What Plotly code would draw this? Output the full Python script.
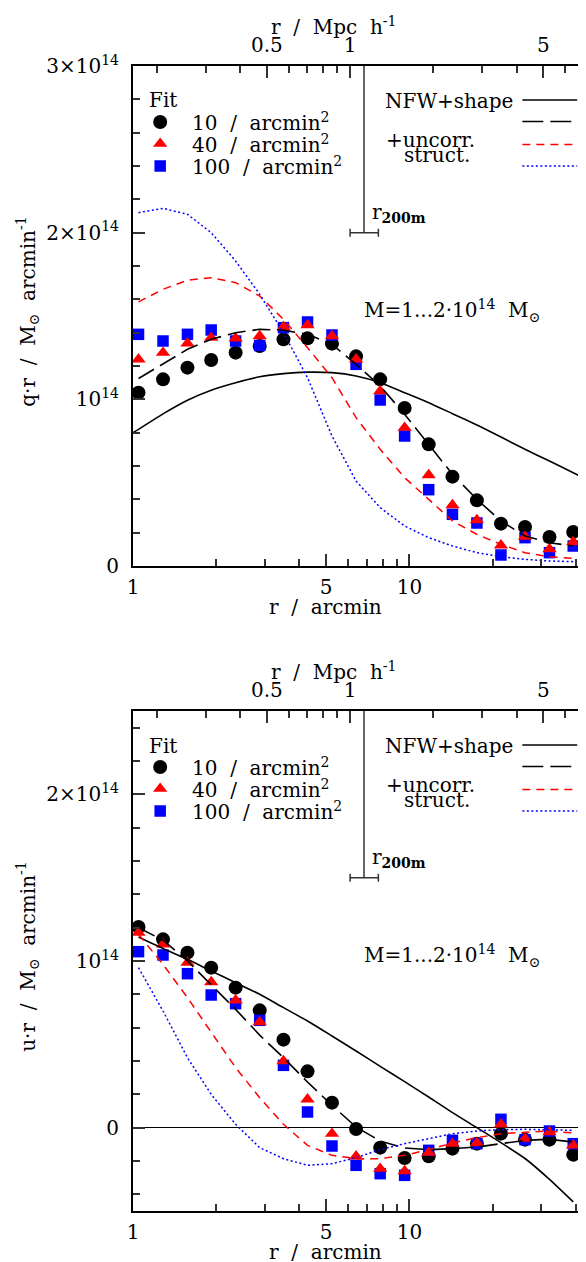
import numpy as np
import plotly.graph_objects as go

# ---------------- data ----------------
ARCMIN_PER_MPC = 6.1          # 1 Mpc/h corresponds to ~6.1 arcmin
R_MAX = 45.0

r = [1.047, 1.284, 1.574, 1.918, 2.351, 2.873, 3.502, 4.279, 5.246, 6.412,
     7.838, 9.607, 11.74, 14.31, 17.54, 21.43, 26.19, 32.11, 39.13]

# top panel: q*r  [1e14 Msun / arcmin]
q_n10 = [1.04, 1.12, 1.19, 1.236, 1.28, 1.32, 1.36, 1.366, 1.334, 1.258,
         1.12, 0.948, 0.73, 0.536, 0.394, 0.254, 0.234, 0.174, 0.204]
q_n40 = [1.24, 1.28, 1.336, 1.37, 1.366, 1.38, 1.434, 1.446, 1.38, 1.24,
         1.05, 0.83, 0.546, 0.366, 0.276, 0.124, 0.176, 0.102, 0.144]
q_n100 = [1.39, 1.35, 1.39, 1.416, 1.35, 1.323, 1.43, 1.464, 1.386, 1.21,
          0.996, 0.78, 0.458, 0.31, 0.258, 0.066, 0.17, 0.08, 0.12]

r_solid_top = [1.0] + r + [R_MAX]
q_nfw = [0.80, 0.82, 0.913, 0.995, 1.055, 1.10, 1.135, 1.154, 1.163, 1.16, 1.14,
         1.10, 1.04, 0.98, 0.914, 0.846, 0.774, 0.70, 0.63, 0.56, 0.51]
q_nfw_dash = [1.125, 1.21, 1.30, 1.36, 1.40, 1.42, 1.415, 1.39, 1.33, 1.21,
              1.08, 0.91, 0.73, 0.55, 0.40, 0.27, 0.18, 0.14, 0.12]
q_unc_red = [1.585, 1.66, 1.715, 1.73, 1.70, 1.62, 1.48, 1.31, 1.13, 0.89,
             0.70, 0.53, 0.40, 0.27, 0.19, 0.13, 0.08, 0.055, 0.046]
q_unc_blue = [2.12, 2.146, 2.11, 2.0, 1.83, 1.63, 1.40, 1.13, 0.78, 0.51,
              0.35, 0.24, 0.17, 0.12, 0.08, 0.055, 0.04, 0.03, 0.026]

# bottom panel: u*r  [1e14 Msun / arcmin]
u_n10 = [1.204, 1.13, 1.05, 0.96, 0.84, 0.704, 0.528, 0.338, 0.15, -0.008,
         -0.12, -0.182, -0.172, -0.126, -0.096, -0.036, -0.072, -0.072, -0.162]
u_n40 = [1.17, 1.10, 0.99, 0.874, 0.764, 0.634, 0.40, 0.17, -0.036, -0.172,
         -0.246, -0.26, -0.15, -0.096, -0.092, 0.02, -0.066, -0.026, -0.106]
u_n100 = [1.056, 1.036, 0.924, 0.796, 0.744, 0.644, 0.374, 0.094, -0.11, -0.226,
          -0.276, -0.286, -0.136, -0.076, -0.096, 0.05, -0.072, -0.02, -0.096]

u_nfw = [1.144, 1.075, 1.01, 0.94, 0.87, 0.80, 0.72, 0.64, 0.55, 0.46,
         0.368, 0.276, 0.184, 0.09, 0.0, -0.09, -0.185, -0.31, -0.445]
u_nfw_dash = [1.20, 1.125, 1.0, 0.86, 0.71, 0.555, 0.42, 0.274, 0.134, 0.004,
              -0.08, -0.122, -0.132, -0.126, -0.116, -0.096, -0.076, -0.07, -0.086]
u_unc_red = [1.16, 0.98, 0.78, 0.57, 0.36, 0.18, 0.02, -0.106, -0.166, -0.186,
             -0.186, -0.166, -0.132, -0.092, -0.06, -0.036, -0.026, -0.02, -0.032]
u_unc_blue = [0.96, 0.70, 0.42, 0.20, 0.02, -0.12, -0.186, -0.226, -0.216, -0.18,
              -0.132, -0.096, -0.066, -0.036, -0.02, -0.012, -0.01, -0.012, -0.016]

r200m = 6.85
r200m_lo, r200m_hi = 6.10, 7.72
r200m_bar_top, r200m_bar_bottom = 2.0, 1.5

ylim_top = [0, 3]
ylim_bottom = [-0.5, 2.5]
ytick_vals_top = [0, 1, 2, 3]
ytick_text_top = ['0', '10<sup>14</sup>', '2×10<sup>14</sup>', '3×10<sup>14</sup>']
ytick_vals_bottom = [0, 1, 2]
ytick_text_bottom = ['0', '10<sup>14</sup>', '2×10<sup>14</sup>']
xtick_vals = [1, 5, 10]
xminor_vals = [2, 3, 4, 6, 7, 8, 9, 20, 30, 40]
mpc_tick_vals = [0.5, 1, 5]
mpc_minor_vals = [0.2, 0.3, 0.4, 0.6, 0.7, 0.8, 0.9, 2, 3, 4, 6, 7]

legend_fit = ['10  /  arcmin<sup>2</sup>', '40  /  arcmin<sup>2</sup>', '100  /  arcmin<sup>2</sup>']

# ---------------- styling ----------------
FONT = 'DejaVu Serif'
FS = 20
TICKC = '#333333'
BLACK_DASH = '18px,7px'
RED_DASH = '8px,6px'
BLUE_DOT = '2px,2.5px'

fig = go.Figure()

def nb(s):
    return s.replace('  ', '\u00a0\u00a0')

def add_panel(xa, xa_mpc, ya, xo, yo, pts, lines, r_solid, bar_y, ytop):
    xs, ys = xa.replace('axis', ''), ya.replace('axis', '')
    n10, n40, n100 = pts
    fig.add_trace(go.Scatter(x=r, y=n10, mode='markers', xaxis=xs, yaxis=ys,
                             marker=dict(symbol='circle', size=14, color='black'), showlegend=False))
    fig.add_trace(go.Scatter(x=r, y=n100, mode='markers', xaxis=xs, yaxis=ys,
                             marker=dict(symbol='square', size=11.5, color='#0000ff'), showlegend=False))
    fig.add_trace(go.Scatter(x=r, y=n40, mode='markers', xaxis=xs, yaxis=ys,
                             marker=dict(symbol='triangle-up', size=12.5, color='#ff0000'), showlegend=False))
    nfw, nfw_d, red, blue = lines
    fig.add_trace(go.Scatter(x=r_solid, y=nfw, mode='lines', xaxis=xs, yaxis=ys,
                             line=dict(color='black', width=1.6, shape='spline', smoothing=0.6),
                             showlegend=False))
    fig.add_trace(go.Scatter(x=r, y=nfw_d, mode='lines', xaxis=xs, yaxis=ys,
                             line=dict(color='black', width=1.6, dash=BLACK_DASH), showlegend=False))
    fig.add_trace(go.Scatter(x=r, y=red, mode='lines', xaxis=xs, yaxis=ys,
                             line=dict(color='#ff0000', width=1.5, dash=RED_DASH), showlegend=False))
    fig.add_trace(go.Scatter(x=r, y=blue, mode='lines', xaxis=xs, yaxis=ys,
                             line=dict(color='#0000ff', width=1.5, dash=BLUE_DOT), showlegend=False))
    # r200m marker
    fig.add_trace(go.Scatter(x=[r200m, r200m], y=[bar_y, ytop], mode='lines', xaxis=xs, yaxis=ys,
                             line=dict(color=TICKC, width=1.5), showlegend=False, cliponaxis=False))
    fig.add_trace(go.Scatter(x=[r200m], y=[bar_y], mode='markers', xaxis=xs, yaxis=ys,
                             marker=dict(size=1, color=TICKC),
                             error_x=dict(type='data', symmetric=False,
                                          array=[r200m_hi - r200m], arrayminus=[r200m - r200m_lo],
                                          color=TICKC, thickness=1.5, width=4),
                             showlegend=False))
    fig.add_trace(go.Scatter(x=[1.0], y=[bar_y], mode='markers', xaxis=xa_mpc.replace('axis', ''),
                             yaxis=ys, marker=dict(size=1, opacity=0), showlegend=False,
                             hoverinfo='skip'))
    # legend samples on an overlay [0,1] axis pair
    xos, yos = xo.replace('axis', ''), yo.replace('axis', '')
    for sym, sz, col, yy in [('circle', 14, 'black', 0.888),
                             ('triangle-up', 12.5, '#ff0000', 0.8446),
                             ('square', 11.5, '#0000ff', 0.800)]:
        fig.add_trace(go.Scatter(x=[0.0595], y=[yy], mode='markers', xaxis=xos, yaxis=yos,
                                 marker=dict(symbol=sym, size=sz, color=col), showlegend=False))
    for x0, x1, yy, col, dash in [(0.852, 0.972, 0.932, 'black', 'solid'),
                                  (0.852, 0.959, 0.889, 'black', '21px,7px'),
                                  (0.852, 0.972, 0.843, '#ff0000', RED_DASH),
                                  (0.852, 0.972, 0.800, '#0000ff', BLUE_DOT)]:
        fig.add_trace(go.Scatter(x=[x0, x1], y=[yy, yy], mode='lines', xaxis=xos, yaxis=yos,
                                 line=dict(color=col, width=1.5, dash=dash), showlegend=False))

add_panel('xaxis', 'xaxis2', 'yaxis', 'xaxis5', 'yaxis3',
          (q_n10, q_n40, q_n100), (q_nfw, q_nfw_dash, q_unc_red, q_unc_blue),
          r_solid_top, r200m_bar_top, ylim_top[1])
add_panel('xaxis3', 'xaxis4', 'yaxis2', 'xaxis6', 'yaxis4',
          (u_n10, u_n40, u_n100), (u_nfw, u_nfw_dash, u_unc_red, u_unc_blue),
          r, r200m_bar_bottom, ylim_bottom[1])

tickfont = dict(family=FONT, size=FS, color='black')

def arcmin_axis(anchor):
    return dict(type='log', range=[0, np.log10(R_MAX)], anchor=anchor,
                tickmode='array', tickvals=xtick_vals, ticktext=[str(v) for v in xtick_vals],
                ticks='inside', ticklen=12, tickwidth=1.5, tickcolor=TICKC,
                minor=dict(tickmode='array', tickvals=xminor_vals, ticks='inside',
                           ticklen=7, tickwidth=1.5, tickcolor=TICKC),
                showline=True, linewidth=2, linecolor='black', mirror=True,
                showgrid=False, zeroline=False, tickfont=tickfont, ticklabelstandoff=2)

def mpc_axis(over, anchor):
    return dict(type='log', overlaying=over, side='top', anchor=anchor,
                range=[np.log10(1.0 / ARCMIN_PER_MPC), np.log10(R_MAX / ARCMIN_PER_MPC)],
                tickmode='array', tickvals=mpc_tick_vals, ticktext=['0.5', '1', '5'],
                ticks='inside', ticklen=12, tickwidth=1.5, tickcolor=TICKC,
                minor=dict(tickmode='array', tickvals=mpc_minor_vals, ticks='inside',
                           ticklen=7, tickwidth=1.5, tickcolor=TICKC),
                showline=False, showgrid=False, zeroline=False, tickfont=tickfont,
                ticklabelstandoff=9)

def y_axis(domain, anchor, rng, tv, tt, zero):
    return dict(domain=domain, anchor=anchor, range=rng, tickmode='array', tickvals=tv,
                ticktext=tt, ticks='inside', ticklen=12, tickwidth=1.5, tickcolor=TICKC,
                minor=dict(dtick=0.2, tick0=0, ticks='inside', ticklen=7, tickwidth=1.5,
                           tickcolor=TICKC),
                showline=True, linewidth=2, linecolor='black', mirror='ticks',
                showgrid=False, zeroline=zero, zerolinecolor='black', zerolinewidth=1.2,
                tickfont=tickfont, ticklabelstandoff=8)

def overlay_axis(over, anchor):
    return dict(overlaying=over, anchor=anchor, range=[0, 1], visible=False, fixedrange=True)

H, W = 1262, 586
ML, MR, MT, MB = 125, 2, 58, 59
top_dom = [(H - MB - 558) / (H - MT - MB), 1.0]
bot_dom = [0.0, (H - MB - 703) / (H - MT - MB)]

fig.update_layout(
    width=W, height=H, margin=dict(l=ML, r=MR, t=MT, b=MB),
    paper_bgcolor='white', plot_bgcolor='white', showlegend=False,
    font=dict(family=FONT, size=FS, color='black'),
    xaxis=arcmin_axis('y'),
    xaxis2=mpc_axis('x', 'y'),
    xaxis3=arcmin_axis('y2'),
    xaxis4=mpc_axis('x3', 'y2'),
    xaxis5=overlay_axis('x', 'y3'),
    xaxis6=overlay_axis('x3', 'y4'),
    yaxis=y_axis(top_dom, 'x', ylim_top, ytick_vals_top, ytick_text_top, False),
    yaxis2=y_axis(bot_dom, 'x3', ylim_bottom, ytick_vals_bottom, ytick_text_bottom, True),
    yaxis3=overlay_axis('y', 'x5'),
    yaxis4=overlay_axis('y2', 'x6'),
)

PH = H - MT - MB
PW = W - ML - MR

def px2paper(px, py):
    return (px - ML) / PW, (H - MB - py) / PH

ann = []
def A(text, x, y, xref, yref, xanchor='left', yanchor='middle', **kw):
    ann.append(dict(text=nb(text), x=x, y=y, xref=xref, yref=yref, xanchor=xanchor,
                    yanchor=yanchor, showarrow=False,
                    font=dict(family=FONT, size=FS, color='black'), **kw))

for (xd, yd, xr, yr, bar_y, top_px, ylab) in [
        ('x domain', 'y domain', 'x', 'y', r200m_bar_top, 58.3, 'q·r  /  M<sub>⊙</sub>  arcmin<sup>-1</sup>'),
        ('x3 domain', 'y2 domain', 'x3', 'y2', r200m_bar_bottom, 703.3, 'u·r  /  M<sub>⊙</sub>  arcmin<sup>-1</sup>')]:
    A('Fit', 0.0305, 0.931, xd, yd)
    for txt, yy in zip(legend_fit, [0.888, 0.845, 0.800]):
        A(txt, 0.1242, yy, xd, yd)
    A('NFW+shape', 0.548, 0.93, xd, yd)
    A('+uncorr.', 0.549, 0.853, xd, yd)
    A('struct.', 0.588, 0.823, xd, yd)
    A('M=1...2·10<sup>14</sup>  M<sub>⊙</sub>', 0.50, 0.511, xd, yd)
    A('r<sub><b>200m</b></sub>', np.log10(r200m), bar_y, xr, yr, xshift=6, yshift=20)
    xa, ya = px2paper(318, top_px + 541)
    A('r  /  arcmin', xa, ya, 'paper', 'paper', xanchor='center')
    xa, ya = px2paper(326, top_px - 40)
    A('r  /  Mpc  h<sup>-1</sup>', xa, ya, 'paper', 'paper', xanchor='center')
    xa, ya = px2paper(19, top_px + 245)
    A(ylab, xa, ya, 'paper', 'paper', xanchor='center', textangle=-90)

fig.update_layout(annotations=ann)

fig.write_html('out.html')
